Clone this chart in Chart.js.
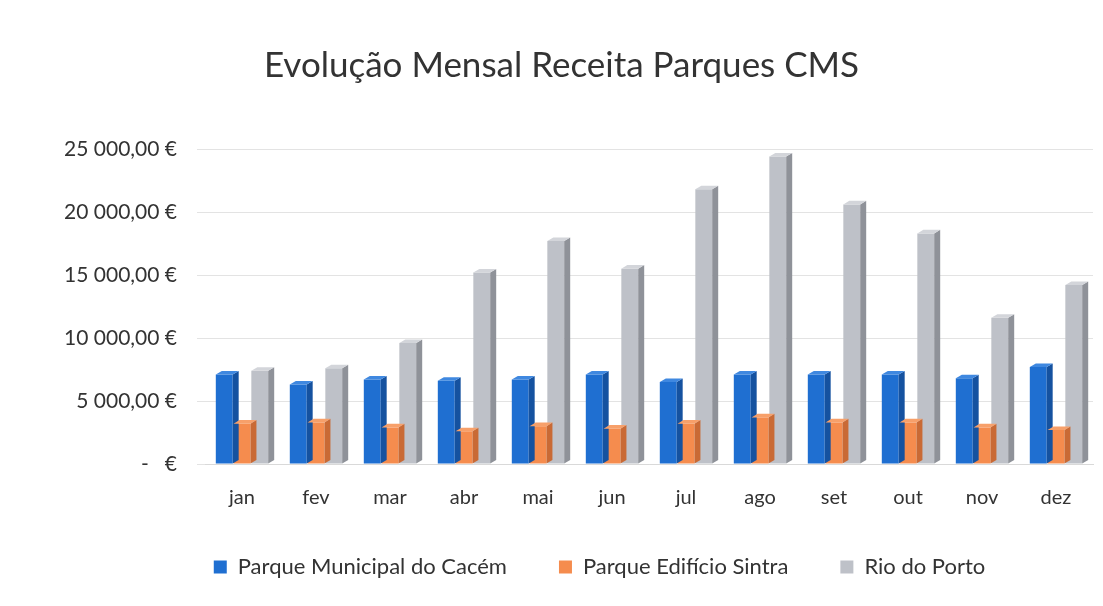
<!DOCTYPE html>
<html>
<head>
<meta charset="utf-8">
<script src="https://cdn.jsdelivr.net/npm/chart.js@4/dist/chart.umd.min.js"></script>
<style>
  html, body { margin: 0; padding: 0; background: #fff; }
  #wrap { width: 1103px; height: 606px; }
</style>
</head>
<body>
<div id="wrap"><canvas id="receitaChart"></canvas></div>
<script>
// Data
const months = ['jan', 'fev', 'mar', 'abr', 'mai', 'jun', 'jul', 'ago', 'set', 'out', 'nov', 'dez'];
const cacem = [7100, 6300, 6700, 6600, 6700, 7100, 6500, 7100, 7100, 7100, 6800, 7700];
const sintra = [3200, 3300, 2900, 2600, 3000, 2800, 3200, 3700, 3300, 3300, 2900, 2700];
const rioPorto = [7400, 7600, 9600, 15200, 17700, 15500, 21800, 24400, 20600, 18300, 11600, 14200];
const yTicks = [0, 5000, 10000, 15000, 20000, 25000];

function euro(v) {
    if (v === 0) return '-   €';
    const s = v.toFixed(2).split('.');
    const int = s[0].replace(/\B(?=(\d{3})+(?!\d))/g, ' ');
    return int + ',' + s[1] + ' €';
}

// small fake-3D depth for each bar
const depthPlugin = {
    id: 'depth',
    afterDatasetsDraw(chart) {
        const ctx = chart.ctx;
        const d = 6;
        chart.data.datasets.forEach((ds, i) => {
            const meta = chart.getDatasetMeta(i);
            meta.data.forEach(bar => {
                const left = bar.x - bar.width / 2;
                const right = bar.x + bar.width / 2;
                const top = bar.y;
                const bottom = bar.base;
                ctx.save();
                ctx.fillStyle = ds.sideColor;
                ctx.beginPath();
                ctx.moveTo(right, top);
                ctx.lineTo(right + d, top - d * 0.6);
                ctx.lineTo(right + d, bottom - d * 0.6);
                ctx.lineTo(right, bottom);
                ctx.closePath();
                ctx.fill();
                ctx.fillStyle = ds.topColor;
                ctx.beginPath();
                ctx.moveTo(left, top);
                ctx.lineTo(left + d, top - d * 0.6);
                ctx.lineTo(right + d, top - d * 0.6);
                ctx.lineTo(right, top);
                ctx.closePath();
                ctx.fill();
                ctx.restore();
            });
        });
    }
};

// keep the legend wide-spaced but not tall, and nudge it like the original
const legendTweak = {
    id: 'legendTweak',
    afterInit(chart) {
        const lg = chart.legend;
        const fit = lg.fit;
        lg.fit = function () {
            fit.call(this);
            this.height = 82;
        };
        const draw = lg.draw;
        lg.draw = function () {
            const ctx = chart.ctx;
            ctx.save();
            ctx.translate(38, -20);
            draw.call(this);
            ctx.restore();
        };
    }
};

new Chart(document.getElementById('receitaChart'), {
    type: 'bar',
    data: {
        labels: months,
        datasets: [
            {
                label: 'Parque Municipal do Cacém',
                data: cacem,
                backgroundColor: '#1f6fd1',
                sideColor: '#1552a0',
                topColor: '#3f88e0'
            },
            {
                label: 'Parque Edifício Sintra',
                data: sintra,
                backgroundColor: '#f58c4e',
                sideColor: '#c96a35',
                topColor: '#f7a06a'
            },
            {
                label: 'Rio do Porto',
                data: rioPorto,
                backgroundColor: '#bec1c8',
                sideColor: '#8f9299',
                topColor: '#d3d5da'
            }
        ]
    },
    options: {
        responsive: true,
        maintainAspectRatio: false,
        animation: false,
        layout: { padding: { left: 30, right: 10, top: 45, bottom: 0 } },
        datasets: {
            bar: { categoryPercentage: 0.72, barPercentage: 0.95 }
        },
        plugins: {
            title: {
                display: true,
                text: 'Evolução Mensal Receita Parques CMS',
                color: '#333',
                font: { family: 'Lato', size: 35, weight: 'normal' },
                padding: { top: 0, bottom: 62 }
            },
            legend: {
                position: 'bottom',
                labels: {
                    color: '#333',
                    font: { family: 'Lato', size: 22 },
                    boxWidth: 13,
                    boxHeight: 13,
                    padding: 52
                }
            },
            tooltip: { enabled: false }
        },
        scales: {
            x: {
                grid: { display: false },
                border: { color: '#d9d9d9' },
                ticks: {
                    color: '#333',
                    font: { family: 'Lato', size: 20 },
                    padding: 14
                }
            },
            y: {
                min: 0,
                max: 25000,
                afterBuildTicks(axis) {
                    axis.ticks = yTicks.map(v => ({ value: v }));
                },
                afterFit(axis) {
                    axis.width = 175;
                },
                grid: { color: '#e3e3e3' },
                border: { display: false },
                ticks: {
                    color: '#333',
                    font: { family: 'Lato', size: 21 },
                    padding: 20,
                    callback: v => euro(v)
                }
            }
        }
    },
    plugins: [depthPlugin, legendTweak]
});
</script>
</body>
</html>
